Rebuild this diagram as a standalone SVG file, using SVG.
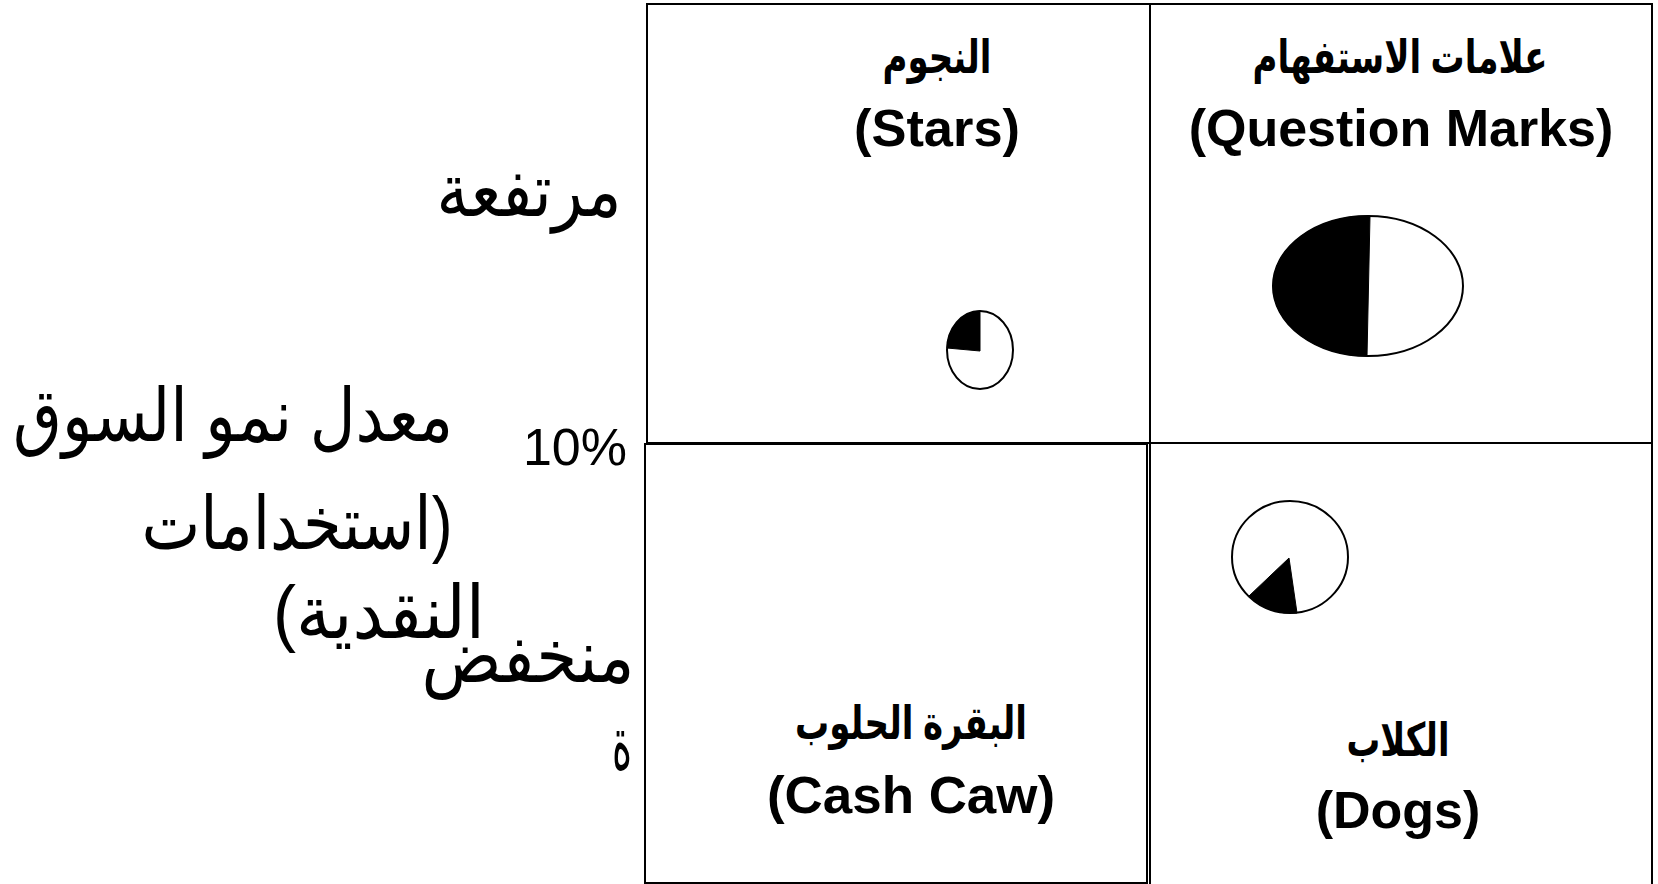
<svg xmlns="http://www.w3.org/2000/svg" width="1658" height="884" viewBox="0 0 1658 884">
<style>
.box{fill:#fff;stroke:#000;stroke-width:2}
.pie{fill:#fff;stroke:#000;stroke-width:2}
.wedge{fill:#000;stroke:#000;stroke-width:1}
.en{font-family:"Liberation Sans",Arial,sans-serif;font-weight:bold;font-size:52px;fill:#000;text-anchor:middle}
.ar{font-family:"Liberation Sans","DejaVu Sans","Noto Sans",sans-serif;font-weight:bold;font-size:46px;fill:#000;text-anchor:middle}
.lab{font-family:"Liberation Sans","DejaVu Sans","Noto Sans",sans-serif;font-size:74px;fill:#000;text-anchor:middle}
.rtl{direction:rtl}
.pct{font-family:"Liberation Sans",Arial,sans-serif;font-size:52px;fill:#000;text-anchor:end}
</style>
<rect width="1658" height="884" fill="#fff"/>
<g id="q-stars">
<rect class="box" x="647" y="4" width="503" height="439"/>
<text class="ar" x="937" y="73" textLength="109" lengthAdjust="spacingAndGlyphs">النجوم</text>
<text class="en" x="937" y="146" textLength="166" lengthAdjust="spacingAndGlyphs">(Stars)</text>
<ellipse class="pie" cx="980" cy="350" rx="33" ry="39"/>
<path class="wedge" d="M980,351 L980,311 A33,39 0 0,0 947,348 Z"/>
</g>
<g id="q-question">
<rect class="box" x="1150" y="4" width="502" height="439"/>
<text class="ar" x="1400" y="73" textLength="295" lengthAdjust="spacingAndGlyphs">علامات الاستفهام</text>
<text class="en" x="1401" y="146">(Question Marks)</text>
<ellipse class="pie" cx="1368" cy="286" rx="95" ry="70"/>
<path class="wedge" d="M1370,216 A95,70 0 0,0 1273,286 A95,70 0 0,0 1367,356 Z"/>
</g>
<g id="q-cash">
<rect class="box" x="645" y="444" width="502" height="439"/>
<text class="ar" x="911" y="739" textLength="232" lengthAdjust="spacingAndGlyphs">البقرة الحلوب</text>
<text class="en" x="911" y="813" textLength="288" lengthAdjust="spacingAndGlyphs">(Cash Caw)</text>
</g>
<g id="q-dogs">
<rect class="box" x="1150" y="443" width="502" height="444"/>
<ellipse class="pie" cx="1290" cy="557" rx="58" ry="56"/>
<path class="wedge" d="M1289,558 L1297,613 A58,56 0 0,1 1249,596 Z"/>
<text class="ar" x="1398" y="756" textLength="103" lengthAdjust="spacingAndGlyphs">الكلاب</text>
<text class="en" x="1398" y="828">(Dogs)</text>
</g>
<g id="axis-labels">
<text class="lab" x="529" y="216" textLength="185" lengthAdjust="spacingAndGlyphs">مرتفعة</text>
<text class="lab" x="233" y="441" textLength="440" lengthAdjust="spacingAndGlyphs">معدل نمو السوق</text>
<text class="pct" x="627" y="465">10%</text>
<text class="lab rtl" x="297" y="549" textLength="311" lengthAdjust="spacingAndGlyphs">(استخدامات</text>
<text class="lab rtl" x="379" y="638" textLength="212" lengthAdjust="spacingAndGlyphs">النقدية)</text>
<text class="lab" x="528" y="682" textLength="213" lengthAdjust="spacingAndGlyphs">منخفض</text>
<text class="lab" x="622" y="769" textLength="20" lengthAdjust="spacingAndGlyphs">ة</text>
</g>
</svg>
